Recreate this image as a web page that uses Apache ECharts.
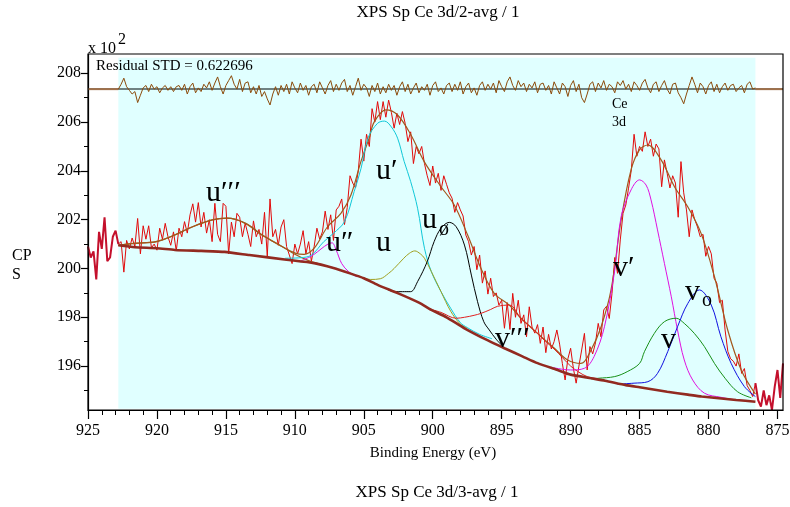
<!DOCTYPE html>
<html>
<head>
<meta charset="utf-8">
<script src="https://cdn.jsdelivr.net/npm/echarts@6/dist/echarts.min.js"></script>
<style>
  html, body { margin: 0; padding: 0; background: #ffffff; overflow: hidden; }
  #chart { width: 790px; height: 507px; }
</style>
</head>
<body>
<div id="chart"></div>
<script>
const SERIF = '"Liberation Serif", "Times New Roman", "DejaVu Serif", serif';

// Ce 3d spectrum, counts (x10^2), one value every 0.2 eV from 925.0 eV down to 874.6 eV
const energyStart = 925.0;
const energyStep = 0.2;
const counts = [
  // 925.0 - 922.8
  200.9, 200.45, 200.7, 199.55, 201.5, 200.8, 202.1, 200.3, 200.45, 201.3, 201.55, 201.0,
  // 922.6 - 915.0
  201.1, 199.85, 201.15, 200.8, 201.25, 200.9, 202.05, 200.6, 201.75, 201.2,
  201.75, 200.85, 201.0, 200.75, 201.65, 201.2, 201.85, 201.3, 200.95, 201.5,
  200.72, 201.65, 201.3, 201.92, 201.45, 202.2, 202.65, 201.9, 202.7, 201.7,
  202.3, 201.45, 202.0, 201.1, 202.67, 201.4, 201.1, 202.67, 202.55,
  // 914.8 - 905.0
  200.6, 201.9, 201.3, 202.26, 202.1, 201.3, 201.85, 201.4, 200.9, 201.95,
  201.3, 201.6, 201.0, 202.3, 200.5, 202.85, 201.3, 201.6, 200.95, 201.7,
  202.0, 200.9, 200.55, 200.2, 201.0, 200.6, 201.0, 201.55, 200.6, 201.1,
  200.3, 200.9, 201.65, 201.2, 201.5, 202.35, 201.6, 202.2, 201.15, 202.4,
  202.55, 202.85, 201.8, 202.5, 203.8, 203.5, 203.3, 204.0, 205.3, 204.4,
  // 904.8 - 894.6
  205.5, 205.0, 206.55, 206.0, 206.84, 206.1, 206.84, 206.2, 206.9, 206.4,
  205.75, 206.36, 205.9, 206.43, 205.95, 205.2, 205.6, 204.3, 205.0, 204.7,
  205.0, 204.3, 203.8, 203.4, 204.2, 203.5, 203.9, 203.2, 203.8, 203.45,
  203.1, 202.88, 202.3, 202.7, 202.4, 202.15, 201.37, 201.1, 200.55, 200.9,
  199.95, 200.55, 199.4, 199.9, 198.95, 199.6, 198.85, 199.0, 198.5, 198.7,
  197.55, 198.6,
  // 894.4 - 885.2
  197.5, 198.98, 198.0, 198.7, 197.75, 198.1, 197.2, 198.43, 197.6, 197.35,
  197.7, 196.93, 197.6, 196.55, 197.3, 196.7, 197.0, 197.48, 196.9, 196.1,
  195.43, 196.3, 196.73, 195.9, 195.3, 196.0, 196.66, 197.34, 195.84, 196.8,
  196.5, 196.95, 197.75, 197.2, 198.3, 198.45, 197.95, 198.98, 200.45, 199.8,
  201.17, 202.26, 202.6, 203.29, 204.04, 205.5, 204.6,
  // 885.0 - 874.6
  205.0, 204.8, 205.6, 205.0, 205.3, 204.6, 205.1, 204.9, 203.35, 204.45,
  203.9, 203.3, 203.8, 203.5, 202.1, 204.38, 203.1, 202.4, 201.3, 202.4,
  202.0, 201.7, 201.3, 201.4, 200.5, 200.9, 200.6, 199.6, 199.4, 198.6,
  198.7, 197.48, 196.6, 196.3, 196.2, 196.0, 196.5, 195.7, 195.9, 195.2,
  195.0, 194.75, 195.3, 194.6, 194.34, 195.0, 194.4, 194.8, 194.2, 195.16,
  195.84, 194.7, 196.11
];

// Fitted region (eV)
const regionHigh = 922.8;
const regionLow = 876.6;

// Shirley background
const backgroundE = [922.8, 921.6, 920.0, 918.7, 916.8, 915.1, 913.3, 910.6, 908.6, 907.2, 906.0, 905.0, 904.0, 902.5, 901.0, 900.1, 899.0, 897.7, 896.0, 894.8, 893.5, 892.4, 891.0, 890.0, 888.5, 887.5, 886.0, 885.0, 883.0, 881.5, 880.5, 878.0, 876.6];
const backgroundI = [200.95, 200.87, 200.83, 200.76, 200.72, 200.68, 200.55, 200.36, 200.22, 200.02, 199.8, 199.6, 199.33, 198.98, 198.6, 198.3, 198.0, 197.55, 197.05, 196.73, 196.4, 196.12, 195.85, 195.65, 195.5, 195.4, 195.22, 195.13, 194.95, 194.83, 194.75, 194.61, 194.54];

// Fit envelope
const envelopeE = [922.8, 921.66, 920.09, 918.88, 917.43, 915.98, 914.93, 913.56, 912.35, 911.14, 909.93, 909.33, 908.6, 907.63, 906.66, 905.94, 905.21, 904.61, 904.25, 903.4, 902.55, 901.58, 900.62, 899.4, 898.44, 897.47, 896.5, 895.54, 894.45, 893.6, 892.39, 891.18, 890.22, 889.25, 888.52, 887.79, 887.07, 886.34, 885.62, 885.01, 884.41, 883.44, 882.47, 881.51, 880.54, 879.57, 878.61, 877.63, 876.6];
const envelopeI = [200.95, 201.03, 201.1, 201.33, 201.71, 201.99, 202.06, 201.85, 201.37, 200.96, 200.62, 200.58, 200.83, 201.71, 202.26, 203.0, 204.38, 205.34, 206.0, 206.5, 206.29, 205.47, 204.38, 203.35, 202.6, 201.37, 200.0, 198.98, 198.5, 197.96, 197.34, 196.73, 196.25, 196.11, 196.66, 197.61, 199.12, 201.99, 204.04, 204.86, 205.06, 204.45, 203.35, 202.53, 201.44, 199.66, 197.48, 195.84, 194.85];

// Components (each drawn on top of the background)
const u3E = [922.8, 921.6, 920.0, 918.9, 917.4, 916.0, 914.9, 913.6, 912.4, 911.1, 910.0, 909.0, 908.0];
const u3I = [200.95, 201.03, 201.1, 201.33, 201.71, 201.99, 202.06, 201.85, 201.37, 200.96, 200.58, 200.32, 200.15];

const u2E = [909.6, 909.0, 908.6, 908.1, 907.6, 907.3, 907.0, 906.6, 906.1, 905.5];
const u2I = [200.3, 200.45, 200.58, 200.8, 201.0, 201.05, 200.75, 200.2, 199.87, 199.66];

const u1E = [910.7, 909.6, 908.8, 907.9, 907.2, 906.4, 905.7, 905.2, 904.7, 904.0, 903.5, 903.0, 902.55, 902.07, 901.6, 901.1, 900.6, 900.1, 899.4, 898.7, 898.0, 897.5, 896.6, 895.7];
const u1I = [200.42, 200.44, 200.55, 201.1, 201.44, 201.92, 203.15, 204.1, 205.34, 205.95, 206.04, 205.8, 205.34, 204.38, 203.56, 202.47, 200.83, 199.87, 199.05, 198.37, 197.78, 197.58, 197.3, 197.12];

const u0E = [905.3, 904.5, 903.8, 903.2, 902.8, 902.1, 901.7, 901.3, 900.9, 900.6, 900.1, 899.4, 898.7, 898.0, 897.5];
const u0I = [199.68, 199.55, 199.58, 199.8, 200.0, 200.42, 200.62, 200.72, 200.6, 200.42, 199.87, 199.05, 198.25, 197.72, 197.55];

const uoE = [903.3, 902.8, 902.2, 901.6, 901.1, 900.4, 899.9, 899.4, 898.8, 898.3, 897.7, 897.2, 896.75, 896.3, 895.9, 895.4, 894.9];
const uoI = [199.15, 199.05, 199.05, 199.05, 199.46, 200.28, 201.1, 201.65, 201.89, 201.71, 200.96, 199.73, 198.64, 197.82, 197.48, 197.1, 196.8];

const v3E = [900.1, 899.4, 898.3, 897.7, 897.0, 896.5, 895.8, 895.3, 894.45, 893.6, 893.0, 892.4, 891.8, 891.2, 890.6, 890.0, 889.4, 888.8, 888.0];
const v3I = [198.32, 198.2, 197.96, 198.0, 198.08, 198.16, 198.32, 198.45, 198.5, 197.95, 197.65, 197.33, 197.0, 196.7, 196.35, 196.0, 195.75, 195.57, 195.47];

const v1E = [891.4, 890.0, 889.0, 888.3, 887.55, 886.8, 886.34, 885.62, 885.0, 884.53, 884.17, 883.7, 883.2, 882.7, 882.25, 881.76, 881.15, 880.3, 879.1, 878.1];
const v1I = [195.95, 195.84, 195.91, 196.39, 197.61, 199.94, 202.12, 203.22, 203.63, 203.42, 202.81, 201.58, 200.21, 198.84, 197.48, 196.25, 195.43, 194.89, 194.72, 194.62];

const v0E = [888.5, 888.0, 886.8, 885.9, 885.0, 884.65, 883.93, 883.2, 882.35, 881.76, 881.03, 880.3, 879.57, 878.8, 877.9, 876.9];
const v0I = [195.47, 195.5, 195.57, 195.77, 196.11, 196.59, 197.34, 197.82, 197.96, 197.75, 197.34, 196.8, 196.11, 195.5, 194.95, 194.7];

const voE = [886.6, 885.4, 884.4, 883.7, 882.96, 882.25, 881.5, 880.66, 879.8, 879.1, 878.36, 877.4, 876.6];
const voI = [195.26, 195.3, 195.36, 195.7, 196.59, 197.61, 198.57, 199.12, 198.5, 197.2, 196.11, 195.16, 194.75];

// Residual trace, shown offset at the top of the plot, every 0.2 eV from 922.8 to 876.6 eV
const residualLevel = 207.35;
const residual = [
  207.35, 207.55, 207.80, 207.45, 207.30, 207.15, 207.25, 206.80, 207.10, 207.40,
  207.50, 207.25, 207.55, 207.35, 207.45, 207.20, 207.40, 207.50, 207.30, 207.45,
  207.25, 207.45, 207.50, 207.30, 207.55, 207.15, 207.45, 207.60, 207.20, 207.40,
  207.25, 207.55, 207.40, 207.65, 207.30, 207.60, 207.85, 207.45, 207.15, 207.50,
  207.70, 207.90, 207.55, 207.35, 207.75, 207.25, 207.60, 207.65, 207.20, 207.45,
  207.15, 207.50, 207.05, 207.25, 206.95, 206.70, 207.15, 207.45, 207.10, 207.50,
  207.25, 207.55, 207.15, 207.65, 207.40, 207.20, 207.60, 207.30, 207.50, 207.10,
  207.45, 207.55, 207.20, 207.65, 207.40, 207.15, 207.50, 207.70, 207.25, 207.55,
  207.30, 207.60, 207.75, 207.25, 207.50, 207.10, 207.45, 207.80, 207.30, 207.55,
  207.40, 207.05, 207.50, 207.25, 207.60, 207.15, 207.45, 207.20, 207.55, 207.30,
  207.50, 207.10, 207.45, 207.65, 207.25, 207.55, 207.15, 207.40, 207.60, 207.20,
  207.45, 207.30, 207.55, 207.10, 207.50, 207.65, 207.25, 207.40, 207.15, 207.50,
  207.60, 207.25, 207.55, 207.30, 207.65, 207.15, 207.45, 207.60, 207.20, 207.40,
  207.10, 207.50, 207.65, 207.30, 207.55, 207.35, 207.60, 207.20, 207.70, 207.45,
  207.25, 207.65, 207.85, 207.50, 207.30, 207.70, 207.45, 207.60, 207.25, 207.55,
  207.40, 207.65, 207.20, 207.55, 207.60, 207.30, 207.50, 207.15, 207.65, 207.40,
  207.15, 207.60, 207.45, 207.05, 207.50, 207.70, 207.25, 207.55, 207.00, 206.80,
  207.15, 207.55, 207.65, 207.25, 207.60, 207.40, 207.70, 207.30, 207.55, 207.45,
  207.20, 207.65, 207.50, 207.70, 207.35, 207.55, 207.25, 207.65, 207.50, 207.30,
  207.60, 207.75, 207.40, 207.20, 207.55, 207.65, 207.25, 207.50, 207.70, 207.35,
  207.15, 207.55, 207.60, 207.20, 207.00, 206.75, 207.15, 207.50, 207.85, 207.55,
  207.20, 207.60, 207.45, 207.15, 207.50, 207.65, 207.25, 207.55, 207.20, 207.45,
  207.60, 207.30, 207.50, 207.55, 207.25, 207.40, 207.50, 207.20, 207.55, 207.65,
  207.35, 207.40
];

// Axis ticks
const xMajorTicks = [875, 880, 885, 890, 895, 900, 905, 910, 915, 920, 925];
const xMinorTicks = [876, 877, 878, 879, 881, 882, 883, 884, 886, 887, 888, 889, 891, 892, 893, 894, 896, 897, 898, 899, 901, 902, 903, 904, 906, 907, 908, 909, 911, 912, 913, 914, 916, 917, 918, 919, 921, 922, 923, 924];
const yMajorTicks = [196, 198, 200, 202, 204, 206, 208];
const yMinorTicks = [195, 197, 199, 201, 203, 205, 207];

// ---------------------------------------------------------------------------
const energyAt = i => +(energyStart - i * energyStep).toFixed(1);
const spectrum = counts.map((c, i) => [energyAt(i), c]);
const inRegion = p => p[0] <= regionHigh + 1e-6 && p[0] >= regionLow - 1e-6;
const spectrumIn = spectrum.filter(inRegion);
const spectrumLeft = spectrum.filter(p => p[0] >= regionHigh - 1e-6);
const spectrumRight = spectrum.filter(p => p[0] <= regionLow + 1e-6);
const zip = (e, v) => e.map((x, i) => [x, v[i]]);
const residualPts = residual.map((r, i) => [+(regionHigh - i * energyStep).toFixed(1), r]);

const chart = echarts.init(document.getElementById('chart'), null, { renderer: 'canvas' });

function curve(name, e, v, color, width, z, smooth) {
  return {
    name, type: 'line', data: zip(e, v), showSymbol: false, symbol: 'none',
    smooth: smooth === undefined ? 0.35 : smooth,
    lineStyle: { color, width }, z, silent: true
  };
}

const GRID = { left: 88, right: 7, top: 54, bottom: 97 };
const xRange = { min: 874.6, max: 925 };
const yRange = { min: 194.2, max: 208.79 };

const option = {
  animation: false,
  backgroundColor: '#ffffff',
  grid: Object.assign({ show: false, containLabel: false, outerBoundsMode: 'none' }, GRID),
  xAxis: [
    {
      type: 'value', inverse: true, min: xRange.min, max: xRange.max,
      axisLine: { show: true, lineStyle: { color: '#000', width: 1.2 } },
      axisTick: { show: true, customValues: xMajorTicks, length: 9, lineStyle: { color: '#000', width: 1.2 } },
      axisLabel: { customValues: xMajorTicks, color: '#000', fontFamily: SERIF, fontSize: 16, margin: 13 },
      splitLine: { show: false }
    },
    {
      type: 'value', inverse: true, min: xRange.min, max: xRange.max, position: 'bottom',
      axisLine: { show: false },
      axisTick: { show: true, customValues: xMinorTicks, length: 5, lineStyle: { color: '#000', width: 1 } },
      axisLabel: { show: false, customValues: xMinorTicks },
      splitLine: { show: false }
    }
  ],
  yAxis: [
    {
      type: 'value', min: yRange.min, max: yRange.max,
      axisLine: { show: true, lineStyle: { color: '#000', width: 1.2 } },
      axisTick: { show: true, customValues: yMajorTicks, length: 7, lineStyle: { color: '#000', width: 1.2 } },
      axisLabel: { customValues: yMajorTicks, color: '#000', fontFamily: SERIF, fontSize: 16, margin: 7 },
      splitLine: { show: false }
    },
    {
      type: 'value', min: yRange.min, max: yRange.max, position: 'left',
      axisLine: { show: false },
      axisTick: { show: true, customValues: yMinorTicks, length: 4, lineStyle: { color: '#000', width: 1 } },
      axisLabel: { show: false, customValues: yMinorTicks },
      splitLine: { show: false }
    }
  ],
  series: [
    {
      name: 'region', type: 'line', data: [], z: 1, silent: true,
      markArea: {
        silent: true,
        itemStyle: { color: '#e0ffff' },
        data: [[{ xAxis: regionHigh, yAxis: yRange.min + 0.05 }, { xAxis: regionLow, yAxis: 208.64 }]]
      }
    },
    {
      name: 'counts', type: 'line', data: spectrumIn, showSymbol: false, symbol: 'none',
      lineStyle: { color: '#e20a0a', width: 1 }, z: 3, silent: true
    },
    {
      name: 'counts-left', type: 'line', data: spectrumLeft, showSymbol: false, symbol: 'none',
      lineStyle: { color: '#c4102c', width: 2 }, z: 3, silent: true
    },
    {
      name: 'counts-right', type: 'line', data: spectrumRight, showSymbol: false, symbol: 'none',
      lineStyle: { color: '#c4102c', width: 2 }, z: 3, silent: true
    },
    curve('envelope', envelopeE, envelopeI, '#a3581c', 1.2, 4),
    curve("u'''", u3E, u3I, '#a3581c', 1.2, 5),
    curve("u''", u2E, u2I, '#e010e0', 1, 5),
    curve("u'", u1E, u1I, '#10c8d8', 1, 5),
    curve('u', u0E, u0I, '#a0a020', 1, 5),
    curve('u0', uoE, uoI, '#000000', 1, 5),
    curve("v'''", v3E, v3I, '#e02020', 1, 5),
    curve("v'", v1E, v1I, '#e010e0', 1, 5),
    curve('v', v0E, v0I, '#189018', 1, 5),
    curve('v0', voE, voI, '#1010e0', 1, 5),
    curve('background', backgroundE, backgroundI, '#922a20', 2.6, 6, 0.2),
    {
      name: 'residual', type: 'line', data: residualPts, showSymbol: false, symbol: 'none',
      lineStyle: { color: '#8b4a0a', width: 1 }, z: 7, silent: true,
      markLine: {
        silent: true, symbol: 'none', label: { show: false },
        lineStyle: { color: '#4a5858', width: 1.5, type: 'solid' },
        data: [{ yAxis: residualLevel }]
      }
    },
    {
      name: 'residual-ends-left', type: 'line', showSymbol: false, symbol: 'none',
      data: [[xRange.max, residualLevel], [regionHigh, residualLevel]],
      lineStyle: { color: '#a0704a', width: 2 }, z: 6, silent: true
    },
    {
      name: 'residual-ends-right', type: 'line', showSymbol: false, symbol: 'none',
      data: [[regionLow, residualLevel], [xRange.min, residualLevel]],
      lineStyle: { color: '#a0704a', width: 2 }, z: 6, silent: true
    }
  ]
};
chart.setOption(option);

// Text annotations
function txt(text, x, y, size, align, extra) {
  return Object.assign({
    type: 'text', x, y, z: 50, silent: true,
    style: {
      text, fill: '#000', font: size + 'px ' + SERIF,
      textAlign: align || 'left', textVerticalAlign: 'middle',
      align: align || 'left', verticalAlign: 'middle'
    }
  }, extra || {});
}

const graphics = [
  // clean page margin above the titles
  {
    type: 'rect', zlevel: 9, z: 100, silent: true,
    shape: { x: 0, y: 0, width: 790, height: 5 },
    style: { fill: '#ffffff', stroke: null }
  },
  // plot frame
  {
    type: 'rect', z: 40, silent: true,
    shape: { x: GRID.left, y: GRID.top, width: 790 - GRID.left - GRID.right, height: 507 - GRID.top - GRID.bottom },
    style: { fill: null, stroke: '#000', lineWidth: 1.2 }
  },
  txt('XPS Sp Ce 3d/2-avg / 1', 438, 13, 17, 'center'),
  txt('XPS Sp Ce 3d/3-avg / 1', 437, 493, 17, 'center'),
  txt('Binding Energy (eV)', 433, 453, 15, 'center'),
  txt('x 10', 88, 49, 16, 'left'),
  txt('2', 118, 40, 16, 'left'),
  txt('CP', 12, 256, 16, 'left'),
  txt('S', 12, 275, 16, 'left'),
  txt('Residual STD = 0.622696', 96, 66, 15, 'left'),
  txt('Ce', 612, 104, 14, 'left'),
  txt('3d', 612, 122, 14, 'left'),
  txt('u\u2032\u2032\u2032', 206, 193, 30, 'left'),
  txt('u\u2032', 376, 171, 30, 'left'),
  txt('u\u2033', 326, 243, 30, 'left'),
  txt('u', 376, 243, 30, 'left'),
  txt('u', 422, 220, 30, 'left'),
  txt('\u00f8', 439, 230, 20, 'left'),
  txt('v\u2032\u2032\u2032', 495, 339, 30, 'left'),
  txt('v\u2032', 613, 268, 30, 'left'),
  txt('v', 685, 292, 30, 'left'),
  txt('o', 702, 301, 20, 'left'),
  txt('v', 661, 340, 30, 'left')
];
chart.setOption({ graphic: graphics });
</script>
</body>
</html>
